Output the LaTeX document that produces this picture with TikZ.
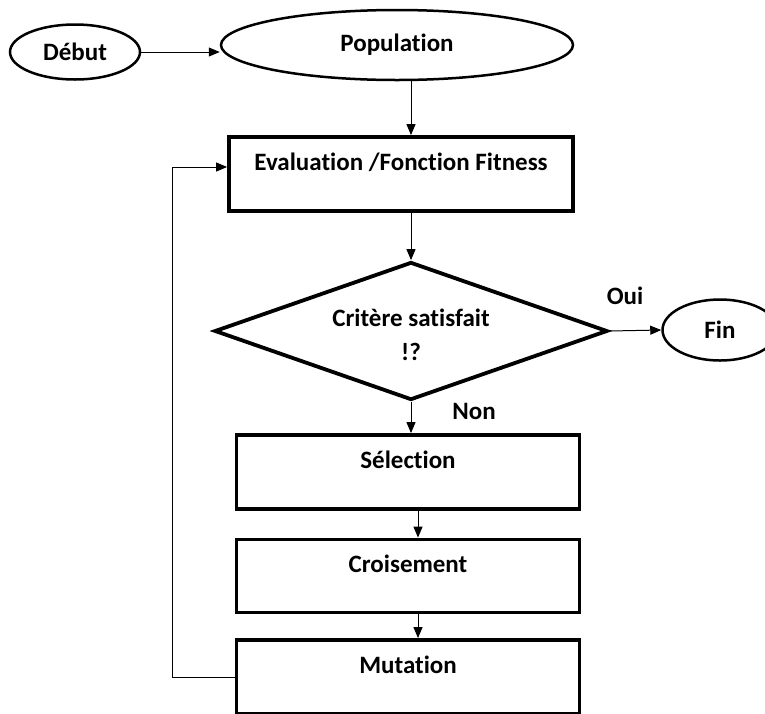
\documentclass[tikz,border=0pt]{standalone}
\usepackage{fontspec}
\setmainfont{Carlito}[Ligatures=NoCommon]
\usetikzlibrary{shapes.geometric,arrows.meta}
\tikzset{
  every node/.style={font=\bfseries\fontsize{25}{34}\selectfont},
  etat/.style={ellipse, draw, line width=2.5pt, inner sep=0pt},
  bloc/.style={rectangle, draw, line width=3.8pt, minimum width=343pt, minimum height=74pt, text height=16pt, text depth=23pt},
  lien/.style={line width=1pt, -{Triangle[length=11pt,width=9pt]}},
}
\begin{document}
\begin{tikzpicture}[x=1pt,y=-1pt]
            \useasboundingbox (0,0) rectangle (765,713);
            % debut et population
            \node[etat, minimum width=130pt, minimum height=55pt] (debut) at (75,52) {Début};
            \node[etat, minimum width=352pt, minimum height=70pt] (pop) at (397,45) {Population};
            \node[bloc, minimum width=344pt] (eval) at (401,174) {Evaluation /Fonction Fitness};
            \node[diamond, draw, line width=3.8pt, aspect=2.85, minimum width=393pt, minimum height=138pt,
                  inner sep=0pt] (crit) at (411,331) {};
            \node[align=center] (crittxt) at (411,335) {Critère satisfait\\!?};
            \node[etat, minimum width=115pt, minimum height=61pt] (fin) at (720,330) {Fin};
            \node (oui) at (625,296) {Oui};
            \node (non) at (474,411) {Non};
            % boucle
            \node[bloc] (sel) at (408,472) {Sélection};
            \node[bloc, minimum height=73pt] (crois) at (408,576) {Croisement};
            \node[bloc] (mut) at (408,677) {Mutation};
            \coordinate (retour) at (172,677);
            \draw[lien] (debut.east) -- (debut.east -| pop.west);
            \draw[lien] (crit.north |- pop.south) -- (crit.north |- eval.north);
            \draw[lien] (crit.north |- eval.south) -- (crit.north);
            \draw[lien] (crit.east) -- (fin.west);
            \draw[lien] (crit.south) -- (crit.south |- sel.north);
            \draw[lien] ([xshift=10pt]sel.south) -- ([xshift=10pt]crois.north);
            \draw[lien] ([xshift=10pt]crois.south) -- ([xshift=10pt]mut.north);
            \draw[lien] (mut.west) -- (retour) |- ([yshift=7pt]eval.west);
        \end{tikzpicture}
\end{document}
